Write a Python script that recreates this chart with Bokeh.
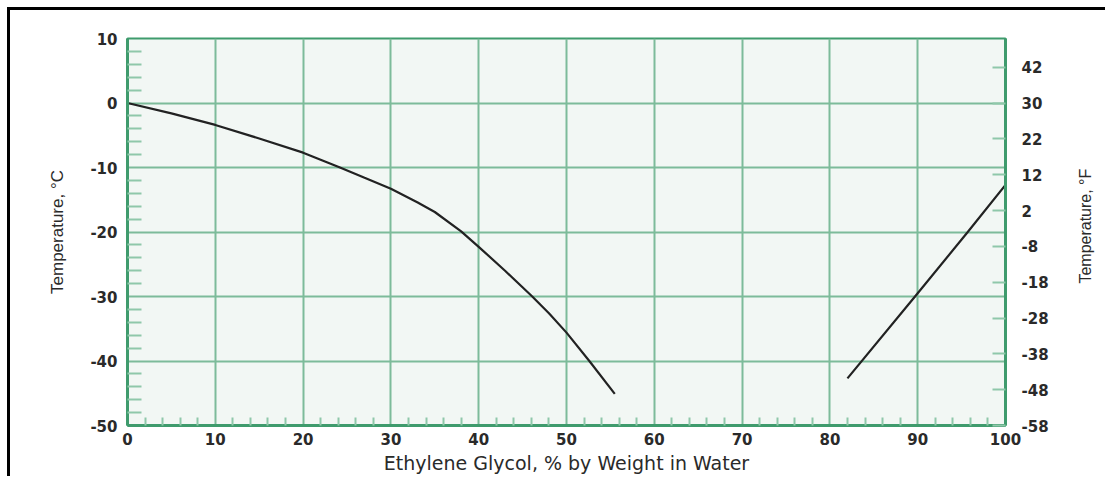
import math
from bokeh.plotting import figure
from bokeh.models import Range1d, LinearAxis, FixedTicker
from bokeh.embed import file_html
from bokeh.resources import INLINE

# ---- data ----
PCT_LOW = [0, 5, 10, 15, 20, 24.2, 27, 30, 33, 35, 38, 40, 43, 46.1, 48, 50, 52.6, 55.5]
TEMP_LOW = [0, -1.6, -3.4, -5.5, -7.7, -10, -11.6, -13.3, -15.4, -16.9, -19.9, -22.3, -26.0, -30, -32.6, -35.6, -40, -45.1]
PCT_HIGH = [82.0, 90, 95.7, 100]
TEMP_HIGH = [-42.7, -29.5, -20, -12.7]

X_TICKS = [0, 10, 20, 30, 40, 50, 60, 70, 80, 90, 100]
C_TICKS = [-50, -40, -30, -20, -10, 0, 10]
F_TICKS = [-58, -48, -38, -28, -18, -8, 2, 12, 22, 32, 42]
F_LABELS = ["-58", "-48", "-38", "-28", "-18", "-8", "2", "12", "22", "30", "42"]

X_LABEL = "Ethylene Glycol, % by Weight in Water"
C_LABEL = "Temperature, °C"
F_LABEL = "Temperature, °F"

GRID = "#7dbb9a"
AXIS = "#3f9b6d"
TICK = "#8fc8aa"
TXT = "#2a2a2a"

x_minor = [v for v in range(X_TICKS[0], X_TICKS[-1] + 1, 2) if v % 10]
c_minor = [v for v in range(C_TICKS[0], C_TICKS[-1] + 1, 2) if v % 10]

p = figure(frame_width=878, frame_height=387,
           x_range=Range1d(0, 100), y_range=Range1d(-50, 10),
           output_backend="svg", toolbar_location=None,
           min_border_left=117, min_border_top=28,
           min_border_right=92, min_border_bottom=10)
p.extra_y_ranges = {"F": Range1d(-58, 50)}
p.styles = {"margin-top": "7px", "margin-left": "7px",
            "border-top": "3px solid black", "border-left": "3px solid black"}

p.background_fill_color = "#f2f7f4"
p.border_fill_color = "white"
p.outline_line_color = AXIS
p.outline_line_width = 2

p.xgrid.ticker = FixedTicker(ticks=X_TICKS)
p.ygrid.ticker = FixedTicker(ticks=C_TICKS)
for g in (p.xgrid, p.ygrid):
    g.grid_line_color = GRID
    g.grid_line_width = 2

tick_font = "DejaVu Sans"

xa = p.xaxis[0]
xa.ticker = FixedTicker(ticks=X_TICKS, minor_ticks=x_minor)
xa.major_label_overrides = {t: str(t) for t in X_TICKS}
xa.axis_label = X_LABEL

ya = p.yaxis[0]
ya.ticker = FixedTicker(ticks=C_TICKS, minor_ticks=c_minor)
ya.major_label_overrides = {t: str(t) for t in C_TICKS}
ya.axis_label = C_LABEL

ra = LinearAxis(y_range_name="F", ticker=FixedTicker(ticks=F_TICKS),
                major_label_overrides=dict(zip(F_TICKS, F_LABELS)))
p.add_layout(ra, "right")

for ax in (xa, ya, ra):
    ax.axis_line_color = AXIS
    ax.axis_line_width = 3
    ax.major_label_text_font = tick_font
    ax.major_label_text_font_size = "15px"
    ax.major_label_text_font_style = "bold"
    ax.major_label_text_color = TXT
    ax.axis_label_text_color = TXT
    ax.axis_label_text_font_style = "normal"

xa.major_tick_in = 0
xa.major_tick_out = 0
xa.minor_tick_in = 8
xa.minor_tick_out = 0
xa.minor_tick_line_color = TICK
xa.minor_tick_line_width = 2
xa.major_label_standoff = 7
xa.axis_label_text_font = "DejaVu Sans"
xa.axis_label_text_font_size = "19px"
xa.axis_label_standoff = 4

ya.major_tick_in = 0
ya.major_tick_out = 0
ya.minor_tick_in = 14
ya.minor_tick_out = 0
ya.minor_tick_line_color = TICK
ya.minor_tick_line_width = 2
ya.major_label_standoff = 10
ya.axis_label_text_font = "Liberation Sans"
ya.axis_label_text_font_size = "17px"
ya.axis_label_standoff = 20

ra.major_tick_in = 13
ra.major_tick_out = 0
ra.major_tick_line_color = TICK
ra.major_tick_line_width = 2
ra.minor_tick_line_color = None
ra.major_label_standoff = 16

# right-hand title, reading bottom-to-top as in the reference:
# drawn as the single label of a bare outer axis, starting at the given height
F_TITLE_START = -28
ta = LinearAxis(ticker=FixedTicker(ticks=[F_TITLE_START]),
                major_label_overrides={F_TITLE_START: F_LABEL},
                major_label_orientation=math.pi / 2)
ta.axis_line_color = None
ta.major_tick_line_color = None
ta.minor_tick_line_color = None
ta.major_label_standoff = 28
ta.major_label_text_font = "Liberation Sans"
ta.major_label_text_font_size = "16px"
ta.major_label_text_color = TXT
p.add_layout(ta, "right")

p.line(PCT_LOW, TEMP_LOW, line_color="#222222", line_width=2.2)
p.line(PCT_HIGH, TEMP_HIGH, line_color="#222222", line_width=2.2)

open("out.html", "w").write(file_html(p, INLINE))
